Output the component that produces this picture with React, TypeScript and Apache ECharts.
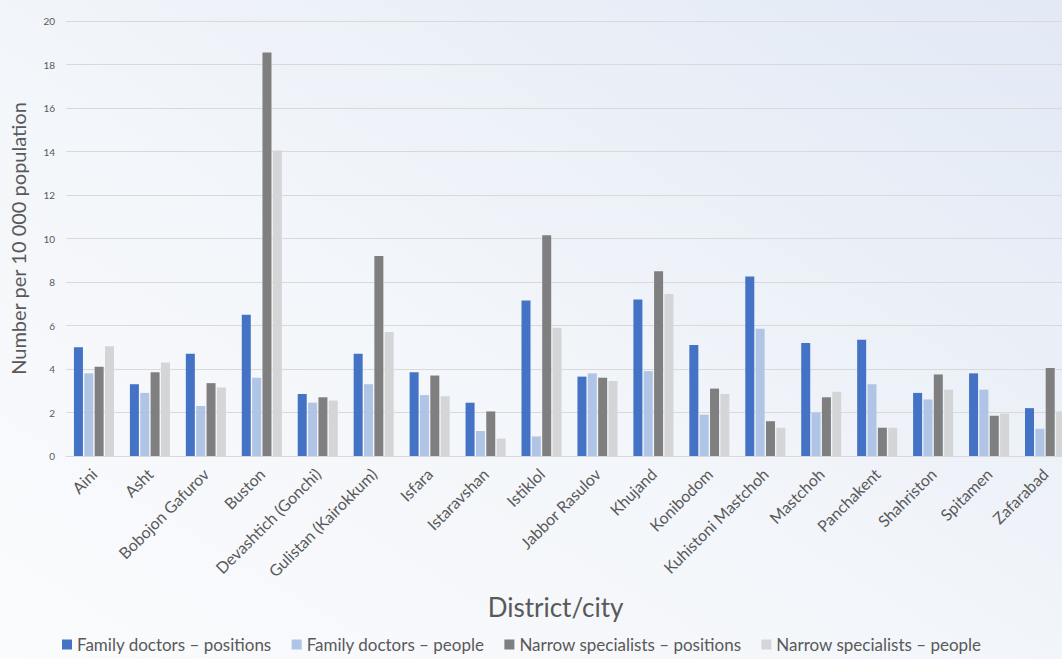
import React, { useEffect, useRef } from "react";
import * as echarts from "echarts";

const categories = [
  "Aini", "Asht", "Bobojon Gafurov", "Buston", "Devashtich (Gonchi)", "Gulistan (Kairokkum)",
  "Isfara", "Istaravshan", "Istiklol", "Jabbor Rasulov", "Khujand", "Konibodom",
  "Kuhistoni Mastchoh", "Mastchoh", "Panchakent", "Shahriston", "Spitamen", "Zafarabad",
];

const familyPositions = [5.0, 3.3, 4.7, 6.5, 2.85, 4.7, 3.85, 2.45, 7.15, 3.65, 7.2, 5.1, 8.25, 5.2, 5.35, 2.9, 3.8, 2.2];
const familyPeople = [3.8, 2.9, 2.3, 3.6, 2.45, 3.3, 2.8, 1.15, 0.9, 3.8, 3.9, 1.9, 5.85, 2.0, 3.3, 2.6, 3.05, 1.25];
const narrowPositions = [4.1, 3.85, 3.35, 18.55, 2.7, 9.2, 3.7, 2.05, 10.15, 3.6, 8.5, 3.1, 1.6, 2.7, 1.3, 3.75, 1.85, 4.05];
const narrowPeople = [5.05, 4.3, 3.15, 14.05, 2.55, 5.7, 2.75, 0.8, 5.9, 3.45, 7.45, 2.85, 1.3, 2.95, 1.3, 3.05, 1.95, 2.05];

const seriesNames = [
  "Family doctors – positions",
  "Family doctors – people",
  "Narrow specialists – positions",
  "Narrow specialists – people",
];
const seriesColors = ["#4472C4", "#B0C4E6", "#7F7F7F", "#D4D5D7"];
const yTicks = { min: 0, max: 20, interval: 2 };

const FONT = "Lato, 'Open Sans', sans-serif";

export default function App() {
  const ref = useRef<HTMLDivElement>(null);
  useEffect(() => {
    if (!ref.current) return;
    const chart = echarts.init(ref.current, undefined, { renderer: "svg" });
    const data = [familyPositions, familyPeople, narrowPositions, narrowPeople];
    chart.setOption({
      animation: false,
      backgroundColor: "transparent",
      textStyle: { fontFamily: FONT },
      grid: { left: 58, right: 7, top: 21, bottom: 203, containLabel: false },
      legend: {
        top: 631,
        left: 57,
        itemWidth: 10,
        itemHeight: 10,
        itemGap: 20,
        icon: "rect",
        textStyle: { fontSize: 17, color: "#595959", fontFamily: FONT },
        data: seriesNames.map((name, i) =>
          i === 2 ? { name, textStyle: { width: 238 } } : { name }
        ),
      },
      xAxis: {
        type: "category",
        data: categories,
        name: "District/city",
        nameLocation: "middle",
        nameGap: 138,
        nameTextStyle: { fontSize: 26, color: "#595959", fontFamily: FONT, padding: [0, 28, 0, 0] },
        axisLine: { show: true, lineStyle: { color: "#D9D9D9" } },
        axisTick: { show: false },
        axisLabel: {
          rotate: 45,
          interval: 0,
          fontSize: 16,
          color: "#595959",
          margin: 15,
          fontFamily: FONT,
        },
      },
      yAxis: {
        type: "value",
        min: yTicks.min,
        max: yTicks.max,
        interval: yTicks.interval,
        name: "Number per 10 000 population",
        nameLocation: "middle",
        nameGap: 38,
        nameTextStyle: { fontSize: 20, color: "#595959", fontFamily: FONT },
        axisLine: { show: false },
        axisTick: { show: false },
        axisLabel: { fontSize: 10, color: "#595959", margin: 11, fontFamily: FONT },
        splitLine: { lineStyle: { color: "#D9D9D9", width: 1 } },
      },
      series: seriesNames.map((name, i) => ({
        name,
        type: "bar",
        data: data[i],
        barWidth: 9,
        barGap: "15%",
        itemStyle: { color: seriesColors[i] },
      })),
    });
    return () => chart.dispose();
  }, []);
  return (
    <div
      style={{
        position: "fixed",
        left: 0,
        top: 0,
        width: 1062,
        height: 659,
        overflow: "hidden",
        background: "linear-gradient(to top right, #FAFBFD 0%, #F3F6FA 45%, #E2E9F5 100%)",
      }}
    >
      <div ref={ref} style={{ width: 1080, height: 659 }} />
    </div>
  );
}
